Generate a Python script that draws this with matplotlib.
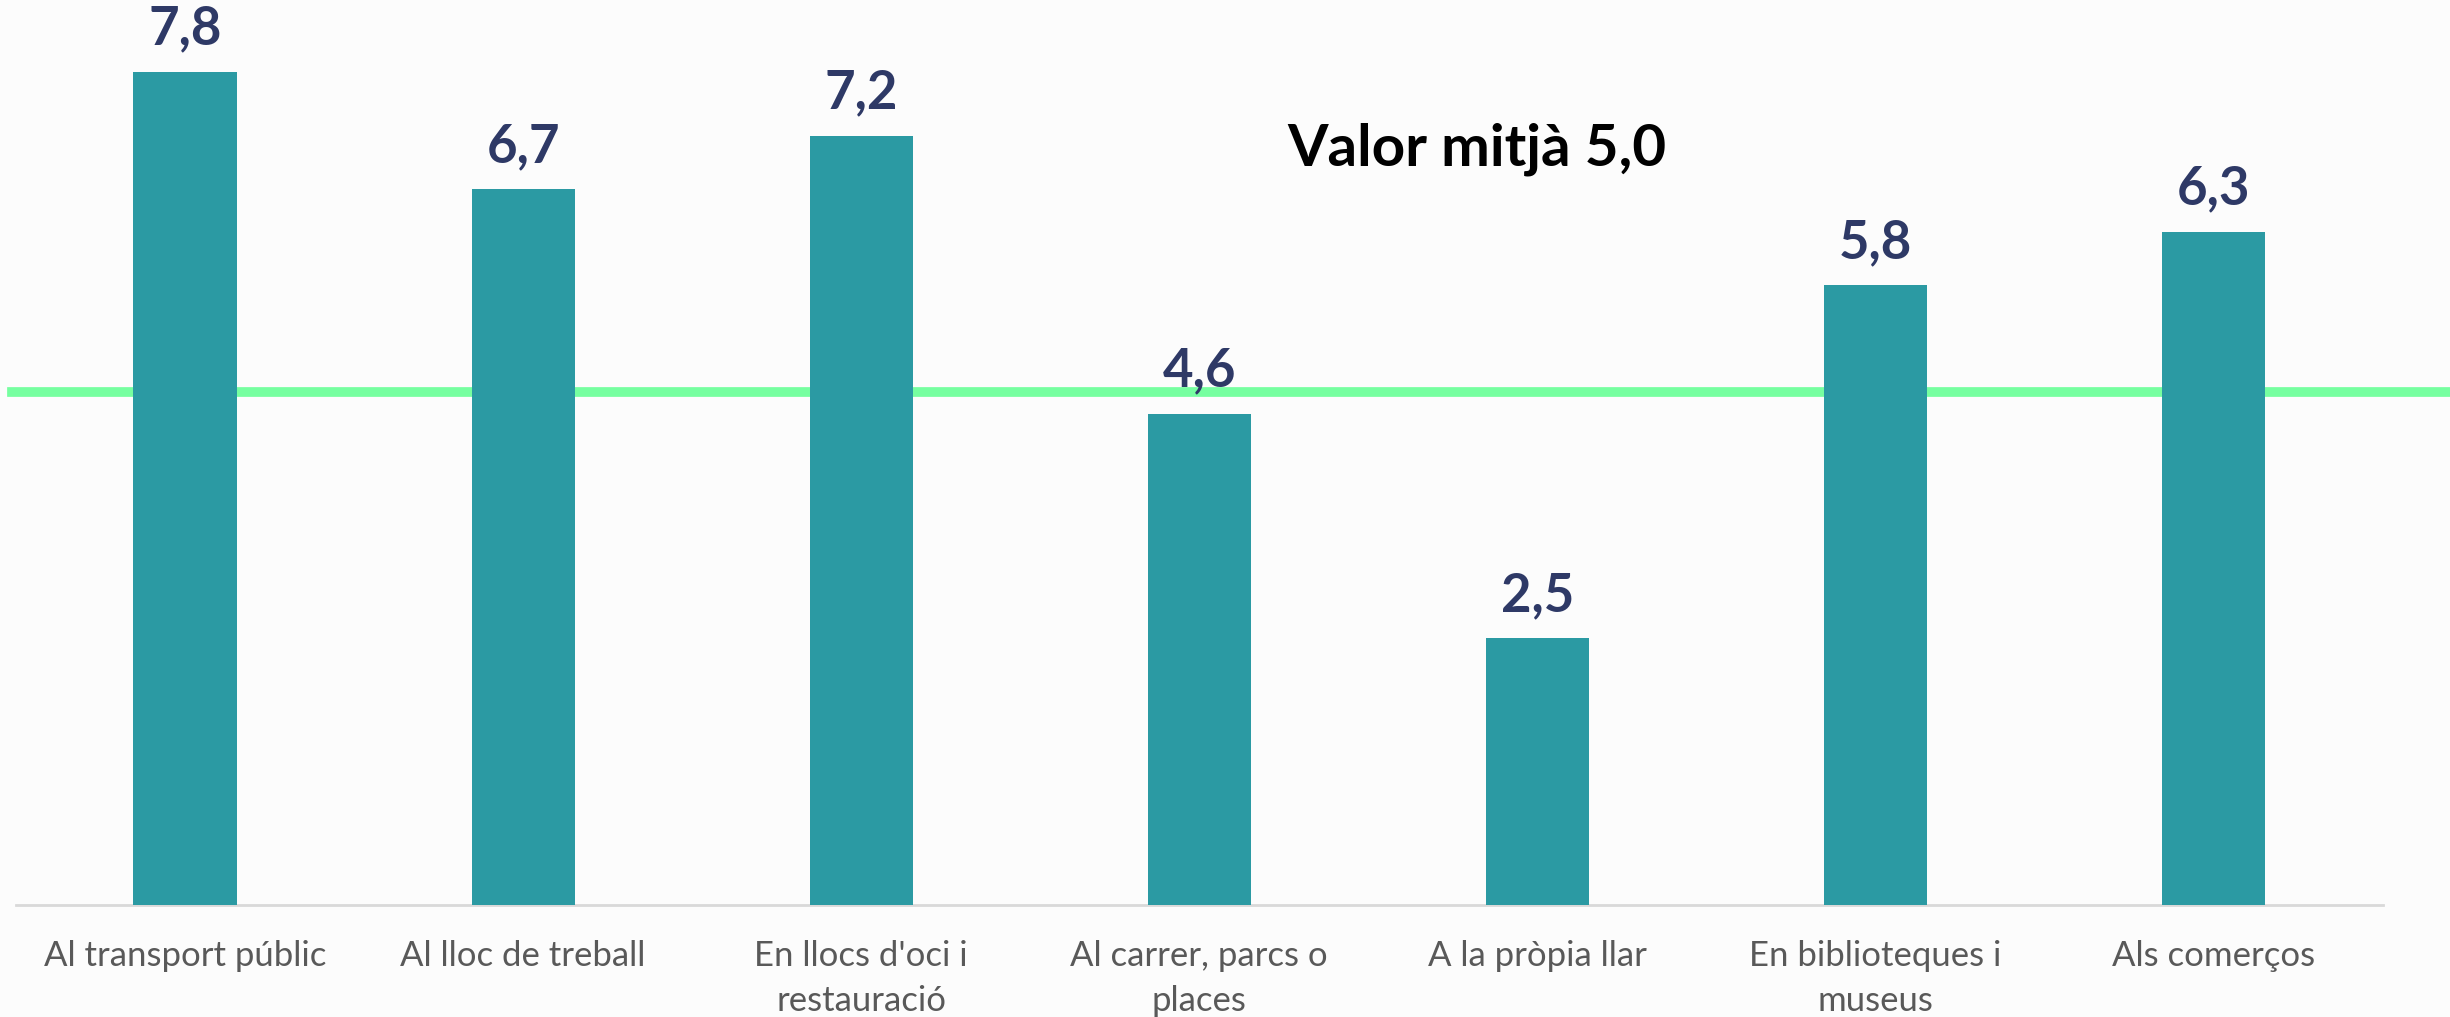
import matplotlib.pyplot as plt

categories = ['Al transport públic', 'Al lloc de treball', "En llocs d'oci i\nrestauració",
              'Al carrer, parcs o\nplaces', 'A la pròpia llar', 'En biblioteques i\nmuseus',
              'Als comerços']
values = [7.8, 6.7, 7.2, 4.6, 2.5, 5.8, 6.3]
value_labels = ['7,8', '6,7', '7,2', '4,6', '2,5', '5,8', '6,3']
mean_text = 'Valor mitjà 5,0'
mean_line = 4.8  # where the green line sits in the picture

bar_color = '#2B9AA3'
label_color = '#2E3966'
line_color = '#76FFA0'

fig = plt.figure(figsize=(24.5, 10.17), dpi=100, facecolor='#FCFCFC')
ax = fig.add_axes([0.0065, 0.11, 0.966, 0.89])
ax.set_facecolor('none')

x = range(len(categories))
ax.bar(x, values, width=0.305, color=bar_color, zorder=3)

ax.axhline(mean_line, xmin=-0.0015, xmax=1.03, color=line_color, lw=7,
           clip_on=False, zorder=2)

for i, (v, lab) in enumerate(zip(values, value_labels)):
    ax.text(i, v + 0.17, lab, ha='center', va='bottom', fontsize=38,
            fontweight='bold', color=label_color, family='Lato')

ax.text(3.82, 7.07, mean_text, ha='center', va='center', fontsize=42,
        fontweight='bold', color='black', family='Lato')

ax.set_xlim(-0.5, 6.5)
ax.set_ylim(0, 8.47)
ax.set_xticks(list(x))
ax.set_xticklabels(categories, fontsize=25, color='#595959', family='Lato',
                   linespacing=1.5)
ax.tick_params(axis='x', length=0, pad=25)
ax.set_yticks([])
for side in ['left', 'right', 'top']:
    ax.spines[side].set_visible(False)
ax.spines['bottom'].set_color('#D9D9D9')
ax.spines['bottom'].set_linewidth(2)

fig.savefig('out.png', dpi=100, facecolor=fig.get_facecolor())
